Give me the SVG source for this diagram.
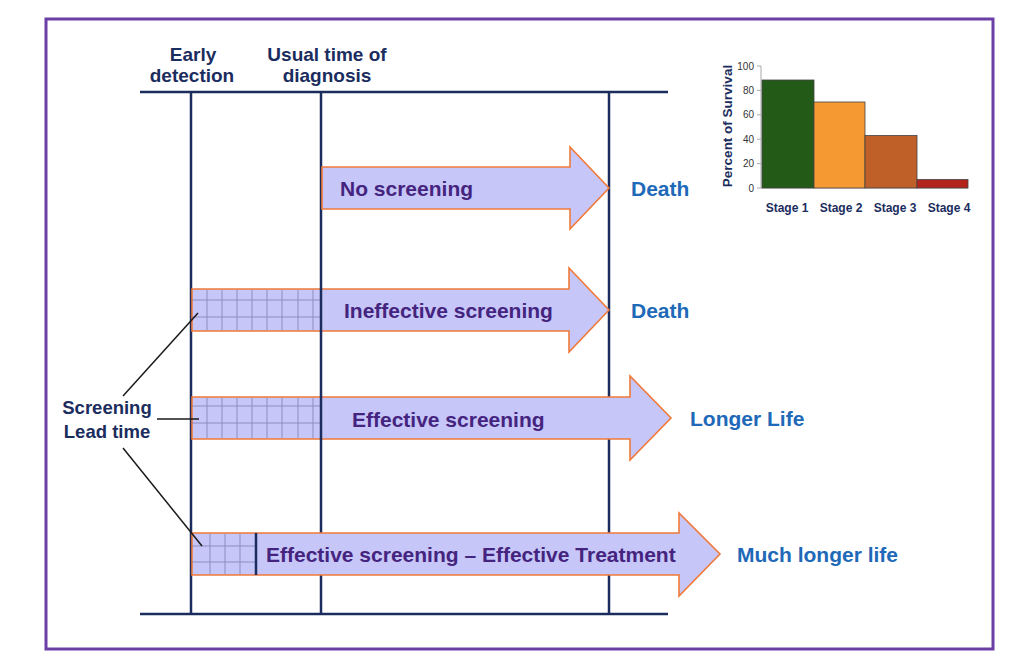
<svg xmlns="http://www.w3.org/2000/svg" width="1024" height="669" viewBox="0 0 1024 669">
<style>
.frame{fill:none;stroke:#6a3fa6;stroke-width:3}
.axis{stroke:#1b2d5e;stroke-width:2.5;fill:none}
.arrow{fill:#c6c6f8;stroke:#f07a3a;stroke-width:1.6;stroke-linejoin:miter}
.grid{stroke:#7d7cab;stroke-width:1;opacity:0.75}
.hdr{font-family:"Liberation Sans",Arial,sans-serif;font-weight:bold;font-size:19px;fill:#1b2d5e;text-anchor:middle}
.lbl{font-family:"Liberation Sans",Arial,sans-serif;font-weight:bold;font-size:21px;fill:#45247f}
.out{font-family:"Liberation Sans",Arial,sans-serif;font-weight:bold;font-size:21px;fill:#2069b8}
.lead{font-family:"Liberation Sans",Arial,sans-serif;font-weight:bold;font-size:18.5px;fill:#1b2d5e;text-anchor:middle}
.leader{stroke:#1a1a1a;stroke-width:1.5}
.tick{font-family:"Liberation Sans",Arial,sans-serif;font-size:10px;fill:#333;text-anchor:end}
.stage{font-family:"Liberation Sans",Arial,sans-serif;font-weight:bold;font-size:12px;fill:#1b2d5e;text-anchor:middle}
.bar{stroke:#444;stroke-width:0.8}
</style>
<rect width="1024" height="669" fill="#ffffff"/>
<rect class="frame" x="46" y="19" width="947" height="630"/>

<g id="timeline">
  <line class="axis" x1="140" y1="92" x2="668" y2="92"/>
  <line class="axis" x1="140" y1="614" x2="668" y2="614"/>
  <line class="axis" x1="191" y1="92" x2="191" y2="614"/>
  <line class="axis" x1="321" y1="92" x2="321" y2="614"/>
  <line class="axis" x1="609" y1="92" x2="609" y2="614"/>
</g>

<g id="header-early">
  <text class="hdr" x="193" y="61">Early</text>
  <text class="hdr" x="192" y="82">detection</text>
</g>
<g id="header-usual">
  <text class="hdr" x="327" y="61">Usual time of</text>
  <text class="hdr" x="327" y="82">diagnosis</text>
</g>

<g id="arrow-no-screening">
  <polygon class="arrow" points="322,167 570,167 570,147 609,188 570,229 570,209 322,209"/>
  <text class="lbl" x="340" y="196">No screening</text>
</g>
<g id="outcome-death-1"><text class="out" x="631" y="196">Death</text></g>

<g id="arrow-ineffective">
  <polygon class="arrow" points="192,289 569,289 569,268 609,310 569,352 569,331 192,331"/>
  <g class="grid">
    <line x1="207" y1="290" x2="207" y2="330"/><line x1="222" y1="290" x2="222" y2="330"/>
    <line x1="237" y1="290" x2="237" y2="330"/><line x1="252" y1="290" x2="252" y2="330"/>
    <line x1="267" y1="290" x2="267" y2="330"/><line x1="282" y1="290" x2="282" y2="330"/>
    <line x1="298" y1="290" x2="298" y2="330"/><line x1="313" y1="290" x2="313" y2="330"/>
    <line x1="192" y1="300" x2="321" y2="300"/><line x1="192" y1="317" x2="321" y2="317"/>
  </g>
  <line class="axis" x1="321" y1="288" x2="321" y2="332"/>
  <text class="lbl" x="344" y="318">Ineffective screening</text>
</g>
<g id="outcome-death-2"><text class="out" x="631" y="318">Death</text></g>

<g id="arrow-effective">
  <polygon class="arrow" points="192,397 630,397 630,376 671,418 630,460 630,439 192,439"/>
  <g class="grid">
    <line x1="207" y1="398" x2="207" y2="438"/><line x1="222" y1="398" x2="222" y2="438"/>
    <line x1="237" y1="398" x2="237" y2="438"/><line x1="252" y1="398" x2="252" y2="438"/>
    <line x1="267" y1="398" x2="267" y2="438"/><line x1="282" y1="398" x2="282" y2="438"/>
    <line x1="298" y1="398" x2="298" y2="438"/><line x1="313" y1="398" x2="313" y2="438"/>
    <line x1="192" y1="406" x2="321" y2="406"/><line x1="192" y1="423" x2="321" y2="423"/>
  </g>
  <line class="axis" x1="321" y1="396" x2="321" y2="440"/>
  <text class="lbl" x="352" y="427">Effective screening</text>
</g>
<g id="outcome-longer"><text class="out" x="690" y="426">Longer Life</text></g>

<g id="arrow-effective-treatment">
  <polygon class="arrow" points="192,533 679,533 679,513 720,554 679,596 679,575 192,575"/>
  <g class="grid">
    <line x1="210" y1="534" x2="210" y2="574"/><line x1="225" y1="534" x2="225" y2="574"/>
    <line x1="240" y1="534" x2="240" y2="574"/>
    <line x1="192" y1="546" x2="256" y2="546"/><line x1="192" y1="562" x2="256" y2="562"/>
  </g>
  <line class="axis" x1="256" y1="533" x2="256" y2="575"/>
  <text class="lbl" x="266" y="562">Effective screening – Effective Treatment</text>
</g>
<g id="outcome-much-longer"><text class="out" x="737" y="562">Much longer life</text></g>

<g id="lead-time">
  <text class="lead" x="107" y="414">Screening</text>
  <text class="lead" x="107" y="438">Lead time</text>
</g>
<g id="connectors">
  <line class="leader" x1="123" y1="396" x2="198" y2="313"/>
  <line class="leader" x1="157" y1="419" x2="199" y2="419"/>
  <line class="leader" x1="123" y1="448" x2="202" y2="546"/>
</g>

<g id="chart">
  <line x1="761" y1="66" x2="761" y2="188" stroke="#aaa" stroke-width="1"/>
  <line x1="761" y1="188" x2="968" y2="188" stroke="#aaa" stroke-width="1"/>
  <g stroke="#aaa" stroke-width="1">
    <line x1="757" y1="66" x2="761" y2="66"/><line x1="757" y1="90.4" x2="761" y2="90.4"/>
    <line x1="757" y1="114.8" x2="761" y2="114.8"/><line x1="757" y1="139.2" x2="761" y2="139.2"/>
    <line x1="757" y1="163.6" x2="761" y2="163.6"/><line x1="757" y1="188" x2="761" y2="188"/>
  </g>
  <text class="tick" x="754" y="69.5">100</text>
  <text class="tick" x="754" y="93.9">80</text>
  <text class="tick" x="754" y="118.3">60</text>
  <text class="tick" x="754" y="142.7">40</text>
  <text class="tick" x="754" y="167.1">20</text>
  <text class="tick" x="754" y="191.5">0</text>
  <rect class="bar" x="762" y="80" width="52" height="108" fill="#235a17"/>
  <rect class="bar" x="814" y="102" width="51" height="86" fill="#f59a32"/>
  <rect class="bar" x="865" y="135.5" width="52" height="52.5" fill="#bf6028"/>
  <rect class="bar" x="917" y="179.5" width="51" height="8.5" fill="#b3241c"/>
  <text transform="translate(732,126) rotate(-90)" font-family="Liberation Sans, Arial, sans-serif" font-weight="bold" font-size="13.5" fill="#1b2d5e" text-anchor="middle">Percent of Survival</text>
  <text class="stage" x="787" y="212">Stage 1</text>
  <text class="stage" x="841" y="212">Stage 2</text>
  <text class="stage" x="895" y="212">Stage 3</text>
  <text class="stage" x="949" y="212">Stage 4</text>
</g>
</svg>
